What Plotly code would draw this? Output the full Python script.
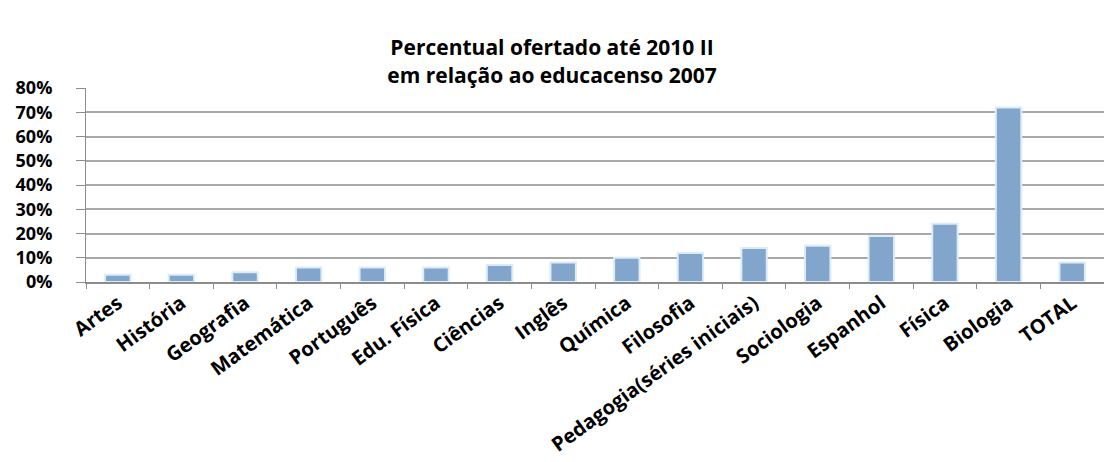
import plotly.graph_objects as go

categories = ["Artes", "História", "Geografia", "Matemática", "Português", "Edu. Física",
              "Ciências", "Inglês", "Química", "Filosofia", "Pedagogia(séries iniciais)",
              "Sociologia", "Espanhol", "Física", "Biologia", "TOTAL"]
values = [3, 3, 4, 6, 6, 6, 7, 8, 10, 12, 14, 15, 19, 24, 72, 8]
y_ticks = [0, 10, 20, 30, 40, 50, 60, 70, 80]
y_tick_labels = ["0%", "10%", "20%", "30%", "40%", "50%", "60%", "70%", "80%"]

title_text = "Percentual ofertado até 2010 II<br>em relação ao educacenso 2007"

fig = go.Figure(go.Bar(
    x=categories,
    y=values,
    marker=dict(color="#82a6cb", line=dict(color="#dcebf8", width=2)),
    hoverinfo="x+y",
))

font_family = "Open Sans, Lato, sans-serif"

fig.update_layout(
    width=1104, height=462,
    margin=dict(l=86, r=0, t=88, b=180),
    paper_bgcolor="white", plot_bgcolor="white",
    title=dict(text=title_text, x=0.5, xanchor="center", y=0.88, yanchor="top",
               font=dict(family=font_family, size=21, color="#000000", weight="bold")),
    bargap=0.6,
    showlegend=False,
    font=dict(family=font_family, color="#000000"),
)

fig.update_yaxes(
    range=[0, 80], tickmode="array", tickvals=y_ticks, ticktext=y_tick_labels,
    showgrid=True, gridcolor="#a8a8a8", gridwidth=1.5,
    showline=True, linecolor="#8c8c8c", linewidth=1,
    ticks="outside", ticklen=9, tickcolor="#8c8c8c",
    ticklabelstandoff=20,
    tickfont=dict(size=18, family=font_family, weight="bold"),
    zeroline=False, fixedrange=True,
)
fig.update_xaxes(
    type="category", tickangle=-36,
    showline=True, linecolor="#8c8c8c", linewidth=1.5,
    ticks="outside", ticklen=5, tickcolor="#8c8c8c", tickson="boundaries",
    tickfont=dict(size=20, family=font_family, weight="bold"),
    fixedrange=True,
)

fig.write_html("out.html")
